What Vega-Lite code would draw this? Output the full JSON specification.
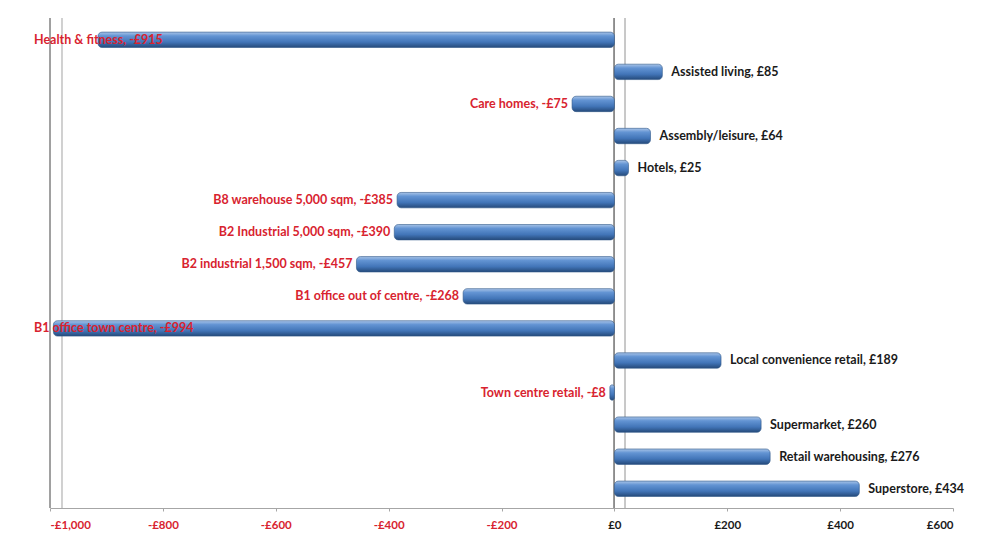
{
  "$schema": "https://vega.github.io/schema/vega-lite/v6.json",
  "width": 903,
  "height": 490,
  "autosize": "none",
  "padding": {"left": 50, "top": 18, "right": 52, "bottom": 41},
  "background": "white",
  "config": {"view": {"stroke": null}, "font": "Lato"},
  "data": {"values": [
    {"use": "Health & fitness", "value": -915, "label": "Health & fitness, -£915"},
    {"use": "Assisted living", "value": 85, "label": "Assisted living, £85"},
    {"use": "Care homes", "value": -75, "label": "Care homes, -£75"},
    {"use": "Assembly/leisure", "value": 64, "label": "Assembly/leisure, £64"},
    {"use": "Hotels", "value": 25, "label": "Hotels, £25"},
    {"use": "B8 warehouse 5,000 sqm", "value": -385, "label": "B8 warehouse 5,000 sqm, -£385"},
    {"use": "B2 Industrial 5,000 sqm", "value": -390, "label": "B2 Industrial 5,000 sqm, -£390"},
    {"use": "B2 industrial 1,500 sqm", "value": -457, "label": "B2 industrial 1,500 sqm, -£457"},
    {"use": "B1 office out of centre", "value": -268, "label": "B1 office out of centre, -£268"},
    {"use": "B1 office town centre", "value": -994, "label": "B1 office town centre, -£994"},
    {"use": "Local convenience retail", "value": 189, "label": "Local convenience retail, £189"},
    {"use": "Town centre retail", "value": -8, "label": "Town centre retail, -£8"},
    {"use": "Supermarket", "value": 260, "label": "Supermarket, £260"},
    {"use": "Retail warehousing", "value": 276, "label": "Retail warehousing, £276"},
    {"use": "Superstore", "value": 434, "label": "Superstore, £434"}
  ]},
  "encoding": {
    "y": {
      "field": "use", "type": "nominal", "sort": null, "axis": null,
      "scale": {"paddingInner": 0.52, "paddingOuter": 0.4, "align": 0.55}
    }
  },
  "layer": [
    {
      "mark": {"type": "rule", "color": "#a0a0a0", "strokeWidth": 1},
      "encoding": {"x": {"datum": -1000, "type": "quantitative"}, "y": null}
    },
    {
      "mark": {"type": "rule", "color": "#d0d0d0", "strokeWidth": 1},
      "encoding": {"x": {"datum": -979, "type": "quantitative"}, "y": null}
    },
    {
      "mark": {"type": "rule", "color": "#8c8c8c", "strokeWidth": 1},
      "encoding": {"x": {"datum": 0, "type": "quantitative"}, "y": null}
    },
    {
      "mark": {"type": "rule", "color": "#c8c8c8", "strokeWidth": 1},
      "encoding": {"x": {"datum": 19, "type": "quantitative"}, "y": null}
    },
    {
      "mark": {
        "type": "bar",
        "cornerRadius": 4,
        "stroke": "#2f5788",
        "strokeWidth": 0.6,
        "color": {
          "gradient": "linear", "x1": 0, "y1": 0, "x2": 0, "y2": 1,
          "stops": [
            {"offset": 0, "color": "#a9c4e8"},
            {"offset": 0.25, "color": "#6394d3"},
            {"offset": 0.65, "color": "#4275b8"},
            {"offset": 1, "color": "#254a7a"}
          ]
        }
      },
      "encoding": {
        "x": {
          "field": "value", "type": "quantitative",
          "scale": {"domain": [-1000, 600], "nice": false, "zero": false},
          "axis": {
            "values": [-1000, -800, -600, -400, -200, 0, 200, 400, 600],
            "labelExpr": "(datum.value < 0 ? '-' : '') + '£' + format(abs(datum.value), ',')",
            "labelFont": "Lato", "labelFontSize": 11.5, "labelFontWeight": "bold",
            "labelColor": {"condition": {"test": "datum.value < 0", "value": "#d8232f"}, "value": "#1a1a1a"},
            "labelPadding": 8,
            "grid": false,
            "domainColor": "#a6a6a6",
            "tickColor": "#a6a6a6",
            "tickSize": 3,
            "title": null
          }
        },
        "x2": {"datum": 0}
      }
    },
    {
      "transform": [{"filter": "datum.value >= 0"}],
      "mark": {"type": "text", "align": "left", "baseline": "middle", "dx": 9, "font": "Lato", "fontSize": 12.5, "fontWeight": "bold", "color": "#1a1a1a"},
      "encoding": {
        "x": {"field": "value", "type": "quantitative"},
        "text": {"field": "label"}
      }
    },
    {
      "transform": [{"filter": "datum.value < 0 && datum.value > -900"}],
      "mark": {"type": "text", "align": "right", "baseline": "middle", "dx": -4, "font": "Lato", "fontSize": 12.5, "fontWeight": "bold", "color": "#d8232f"},
      "encoding": {
        "x": {"field": "value", "type": "quantitative"},
        "text": {"field": "label"}
      }
    },
    {
      "transform": [{"filter": "datum.value <= -900"}],
      "mark": {"type": "text", "align": "left", "baseline": "middle", "dx": -16, "font": "Lato", "fontSize": 12.5, "fontWeight": "bold", "color": "#d8232f"},
      "encoding": {
        "x": {"datum": -1000, "type": "quantitative"},
        "text": {"field": "label"}
      }
    }
  ]
}
